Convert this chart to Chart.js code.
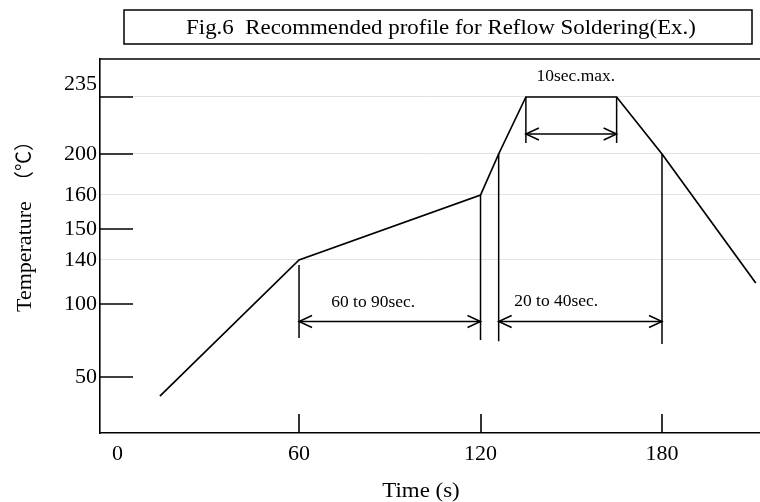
<!DOCTYPE html>
<html><head><meta charset="utf-8">
<script src="https://cdn.jsdelivr.net/npm/chart.js@4.4.0/dist/chart.umd.min.js"></script>
<style>html,body{margin:0;padding:0;background:#fff}#wrap{width:760px;height:502px;position:relative}</style>
</head><body><div id="wrap"><canvas id="c" width="760" height="502"></canvas></div>
<script>
// ---- data ----
const timeSec = [14, 60, 120, 126, 135, 165, 180, 211];
const tempC   = [33, 140, 160, 200, 235, 235, 200, 119];
const xTickValues = [0, 60, 120, 180];
const yTickValues = [50, 100, 140, 150, 160, 200, 235];
const yGridValues = [140, 160, 200, 235];
const yMarkValues = [50, 100, 150, 200, 235];
const xMarkValues = [60, 120, 180];
const titleText = 'Fig.6  Recommended profile for Reflow Soldering(Ex.)';
const xTitleText = 'Time (s)';
const yTitleText = 'Temperature';
const yUnitText = '（℃）';
const spanLabels = ['60 to 90sec.', '20 to 40sec.', '10sec.max.'];
const spanFrom = [60, 126, 135];
const spanTo = [120, 180, 165];

// ---- layout of annotations (data units) ----
const noteLayout = [
  {arrowAt: 88,  top: [135.5, 160], bottom: [76.7, 75.3], labelX: 84.5, labelY: 100.8},
  {arrowAt: 88,  top: [200, 200],   bottom: [74.5, 72.6], labelX: 145,  labelY: 102},
  {arrowAt: 212.3, top: [235, 235], bottom: [206.8, 206.8], labelX: 151.5, labelY: 247}
];

// the schematic temperature axis is not linear: piecewise mapping
const yBreakValues = [0, 50, 100, 140, 150, 160, 200, 235, 258];
const yBreakFractions = [0, 0.1497, 0.3449, 0.4626, 0.5455, 0.6364, 0.746, 0.8984, 1];

class BrokenLinearScale extends Chart.LinearScale {
  static id = 'brokenLinear';
  static defaults = {};
  _dec(v) {
    const V = yBreakValues, F = yBreakFractions;
    let i = 0;
    while (i < V.length - 2 && v > V[i + 1]) i++;
    return F[i] + (v - V[i]) / (V[i + 1] - V[i]) * (F[i + 1] - F[i]);
  }
  getPixelForValue(value) {
    if (value === null || value === undefined || isNaN(value)) return NaN;
    return this.getPixelForDecimal(this._dec(value));
  }
  getValueForPixel(pixel) {
    const d = this.getDecimalForPixel(pixel);
    const V = yBreakValues, F = yBreakFractions;
    let i = 0;
    while (i < F.length - 2 && d > F[i + 1]) i++;
    return V[i] + (d - F[i]) / (F[i + 1] - F[i]) * (V[i + 1] - V[i]);
  }
}
Chart.register(BrokenLinearScale);

const SERIF = "'Liberation Serif', 'Times New Roman', serif";
const STRETCH = 1.09;

function seg(ctx, x1, y1, x2, y2) { ctx.beginPath(); ctx.moveTo(x1, y1); ctx.lineTo(x2, y2); ctx.stroke(); }
function head(ctx, tx, ty, dir) {
  ctx.beginPath();
  ctx.moveTo(tx + dir * 13, ty - 6);
  ctx.lineTo(tx, ty);
  ctx.lineTo(tx + dir * 13, ty + 6);
  ctx.stroke();
}
function wideText(ctx, text, x, y) {
  ctx.save();
  ctx.translate(x, y);
  ctx.scale(STRETCH, 1);
  ctx.fillText(text, 0, 0);
  ctx.restore();
}

const decor = {
  id: 'decor',
  afterDatasetsDraw(chart) {
    const {ctx, chartArea: a, scales: {x, y}} = chart;
    ctx.save();
    ctx.strokeStyle = '#000';
    ctx.fillStyle = '#000';
    ctx.lineWidth = 1.6;
    // top frame line
    seg(ctx, a.left, a.top, a.right, a.top);
    // inside tick marks
    yMarkValues.forEach(v => { const py = Math.round(y.getPixelForValue(v)); seg(ctx, a.left, py, a.left + 33, py); });
    xMarkValues.forEach(v => { const px = Math.round(x.getPixelForValue(v)); seg(ctx, px, a.bottom, px, a.bottom - 19); });
    // spans
    ctx.lineWidth = 1.5;
    noteLayout.forEach((n, i) => {
      const x1 = x.getPixelForValue(spanFrom[i]), x2 = x.getPixelForValue(spanTo[i]);
      seg(ctx, x1, y.getPixelForValue(n.top[0]), x1, y.getPixelForValue(n.bottom[0]));
      seg(ctx, x2, y.getPixelForValue(n.top[1]), x2, y.getPixelForValue(n.bottom[1]));
      const ya = y.getPixelForValue(n.arrowAt);
      seg(ctx, x1, ya, x2, ya);
      head(ctx, x1, ya, 1);
      head(ctx, x2, ya, -1);
      ctx.font = '16px ' + SERIF;
      ctx.textAlign = 'center';
      ctx.textBaseline = 'middle';
      wideText(ctx, spanLabels[i], x.getPixelForValue(n.labelX), y.getPixelForValue(n.labelY));
    });
    // title box
    ctx.lineWidth = 1.5;
    ctx.strokeRect(124, 10, 628, 34);
    ctx.font = '21px ' + SERIF;
    ctx.textAlign = 'center';
    ctx.textBaseline = 'middle';
    wideText(ctx, titleText, 441, 28);
    // x title
    ctx.textBaseline = 'alphabetic';
    wideText(ctx, xTitleText, 421, 497);
    // y title (rotated)
    ctx.save();
    ctx.translate(31, 312);
    ctx.rotate(-Math.PI / 2);
    ctx.textAlign = 'left';
    ctx.font = '22px ' + SERIF;
    ctx.fillText(yTitleText, 0, 0);
    ctx.font = "20px 'Noto Sans CJK JP', 'DejaVu Sans', sans-serif";
    const wu = ctx.measureText(yUnitText).width;
    ctx.fillText(yUnitText, 151 - wu / 2, 0);
    ctx.restore();
    ctx.restore();
  }
};

new Chart(document.getElementById('c'), {
  type: 'line',
  data: {
    datasets: [{
      data: timeSec.map((t, i) => ({x: t, y: tempC[i]})),
      borderColor: '#000',
      borderWidth: 1.7,
      pointRadius: 0,
      tension: 0,
      fill: false
    }]
  },
  options: {
    responsive: false,
    animation: false,
    events: [],
    layout: {padding: {top: 59, left: 0, right: 0, bottom: 0}},
    plugins: {legend: {display: false}, title: {display: false}, tooltip: {enabled: false}},
    scales: {
      x: {
        type: 'linear',
        min: -5.8,
        max: 212.4,
        afterBuildTicks: s => { s.ticks = xTickValues.map(v => ({value: v})); },
        afterFit: s => { s.height = 69; },
        grid: {display: true, drawOnChartArea: false, drawTicks: false},
        border: {display: true, color: '#000', width: 1.6},
        ticks: {color: '#000', font: {family: SERIF, size: 22}, padding: 8, maxRotation: 0, autoSkip: false}
      },
      y: {
        type: 'brokenLinear',
        min: 0,
        max: 258,
        afterBuildTicks: s => { s.ticks = yTickValues.map(v => ({value: v})); },
        afterFit: s => { s.width = 100; },
        grid: {
          drawTicks: false,
          color: c => (c.tick && yGridValues.includes(c.tick.value)) ? '#e2e2e2' : 'rgba(0,0,0,0)',
          lineWidth: 1
        },
        border: {display: true, color: '#000', width: 1.6},
        ticks: {
          color: '#000',
          font: {family: SERIF, size: 22},
          padding: 3,
          autoSkip: false,
          callback: v => v === 235 ? ['235', ''] : String(v)
        }
      }
    }
  },
  plugins: [decor]
});
</script>
</body></html>
